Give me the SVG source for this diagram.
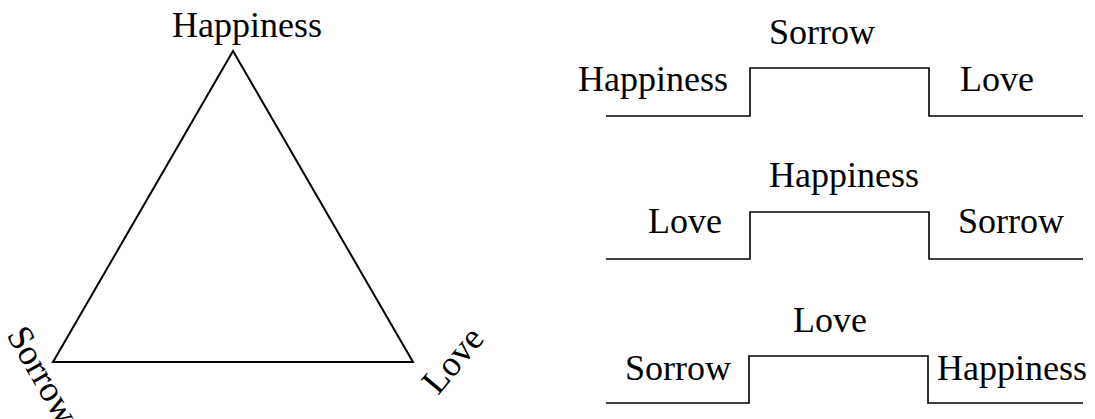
<svg xmlns="http://www.w3.org/2000/svg" width="1095" height="419" viewBox="0 0 1095 419">
<style>
text{font-family:"Liberation Serif","Times New Roman",serif;font-size:36px;fill:#000}
.ln{fill:none;stroke:#000;stroke-width:2}
.st{fill:none;stroke:#000;stroke-width:1.6}
</style>
<rect width="1095" height="419" fill="#fff"/>
<g id="triangle">
<polygon class="ln" points="233,51 53,362 413,362"/>
<text x="172" y="37">Happiness</text>
<text transform="translate(6,335) rotate(60)">Sorrow</text>
<text transform="translate(438,396) rotate(-50)">Love</text>
</g>
<g id="step1">
<polyline class="st" points="606,116 750,116 750,68 929,68 929,116 1083,116"/>
<text x="578" y="91">Happiness</text>
<text x="769" y="44">Sorrow</text>
<text x="960" y="91">Love</text>
</g>
<g id="step2">
<polyline class="st" points="606,259 750,259 750,212 929,212 929,259 1083,259"/>
<text x="769" y="187">Happiness</text>
<text x="648" y="233">Love</text>
<text x="958" y="233">Sorrow</text>
</g>
<g id="step3">
<polyline class="st" points="606,403 749,403 749,356 928,356 928,403 1083,403"/>
<text x="793" y="332">Love</text>
<text x="625" y="380">Sorrow</text>
<text x="937" y="380">Happiness</text>
</g>
</svg>
